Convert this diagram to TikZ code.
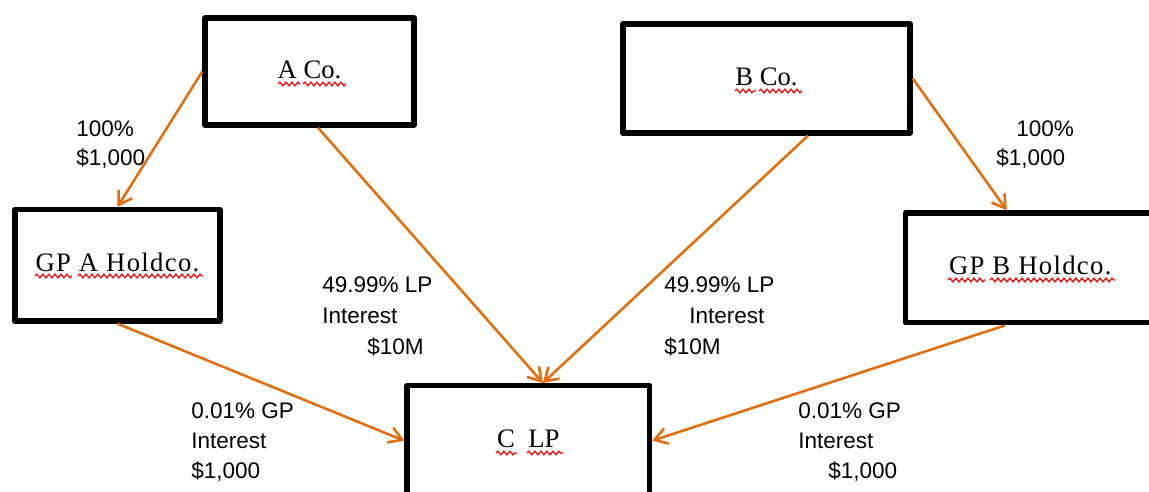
\documentclass[tikz,border=0pt]{standalone}
\usepackage{fontspec}
\setmainfont{Liberation Serif}
\newfontfamily\arialf{Liberation Sans}
\newfontfamily\gpfont[LetterSpace=5]{Liberation Serif}
\usetikzlibrary{arrows.meta,calc,decorations.pathmorphing}
\definecolor{arr}{RGB}{228,108,10}
\begin{document}
\begin{tikzpicture}[x=0.75pt,y=-0.75pt,
  box/.style={draw,line width=4.1pt,line join=round,inner sep=0pt,
    font=\fontsize{20}{24}\selectfont,text height=14pt,text depth=4pt},
  gpbox/.style={box,font=\gpfont\fontsize{20}{24}\selectfont},
  lbl/.style={anchor=base west,inner sep=0pt,font=\arialf\fontsize{16.9}{20}\selectfont},
  link/.style={draw=arr,line width=1.9pt,-{Straight Barb[length=9.5pt,width=12pt]}},
  wave/.style={draw=red,line width=0.9pt,decorate,
    decoration={snake,amplitude=1.4pt,segment length=4.5pt}}]
\path[use as bounding box] (0,0) rectangle (1149,492);
\clip (0,0) rectangle (1149,492);

% boxes
\node[box,minimum width=156.75pt,minimum height=80.25pt] (a) at (309.5,71.5) {A Co.};
\node[box,minimum width=215.25pt,minimum height=81.75pt] (b) at (766.5,78.5) {B Co.};
\node[gpbox,minimum width=153.75pt,minimum height=83.6pt] (gpa) at (117.5,265.25) {GP A Holdco.};
\node[gpbox,minimum width=187.1pt,minimum height=82.3pt] (gpb) at (1030.25,267.85) {GP B Holdco.};
\node[box,minimum width=181.9pt,minimum height=82.5pt] (c) at (528.25,440.7) {C\ \ LP};

% spell-check squiggles
\draw[wave] (278,84) -- (300,84);
\draw[wave] (303,84) -- (346,84);
\draw[wave] (735,91) -- (756,91);
\draw[wave] (759,91) -- (802,91);
\draw[wave] (35,276) -- (72,276);
\draw[wave] (78,276) -- (203,276);
\draw[wave] (948,280) -- (985,280);
\draw[wave] (990,280) -- (1115,280);
\draw[wave] (496,453) -- (517,453);
\draw[wave] (527,453) -- (563,453);

% connectors
\draw[link] (a.west) -- (gpa.north);
\draw[link] ([xshift=6.4pt]a.south) -- ([xshift=11pt]c.north);
\draw[link] ([xshift=31.1pt]b.south) -- ([xshift=11pt]c.north);
\draw[link] (b.east) -- ([xshift=-17.6pt]gpb.north);
\draw[link] (gpa.south) -- (c.west);
\draw[link] ([xshift=-19pt]gpb.south) -- (c.east);

% labels
\node[lbl] (l1a) at (76,136) {100\%};
\node[lbl] (l1b) at (76,165) {\$1,000};
\node[lbl] (r1a) at (1016,136) {100\%};
\node[lbl] (r1b) at (996,165) {\$1,000};
\node[lbl] (l2a) at (322,292) {49.99\% LP};
\node[lbl] (l2b) at (322,323) {Interest};
\node[lbl] (l2c) at (367,354) {\$10M};
\node[lbl] (r2a) at (664,292) {49.99\% LP};
\node[lbl] (r2b) at (689,323) {Interest};
\node[lbl] (r2c) at (664,354) {\$10M};
\node[lbl] (l3a) at (191,418) {0.01\% GP};
\node[lbl] (l3b) at (191,448) {Interest};
\node[lbl] (l3c) at (191,478) {\$1,000};
\node[lbl] (r3a) at (798,418) {0.01\% GP};
\node[lbl] (r3b) at (798,448) {Interest};
\node[lbl] (r3c) at (828,478) {\$1,000};
\end{tikzpicture}
\end{document}
